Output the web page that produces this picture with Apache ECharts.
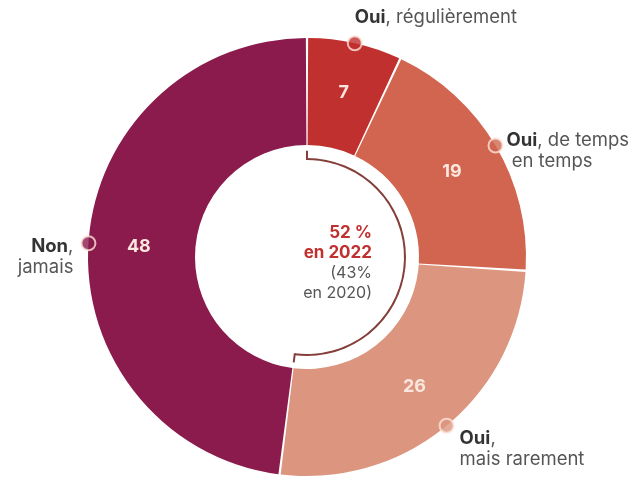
<!DOCTYPE html>
<html>
<head>
<meta charset="utf-8">
<script src="https://cdn.jsdelivr.net/npm/echarts@6/dist/echarts.min.js"></script>
<style>html,body{margin:0;padding:0;background:#fff}#c{width:635px;height:477px}</style>
</head>
<body>
<div id="c"></div>
<script>
var categories = ['Oui, régulièrement', 'Oui, de temps en temps', 'Oui, mais rarement', 'Non, jamais'];
var values = [7, 19, 26, 48];
var colors = ['#c0302f', '#d1654f', '#dc967f', '#8a1b4c'];
var labelBold = ['Oui', 'Oui', 'Oui', 'Non'];
var labelRest = [', régulièrement', ', de temps\n en temps', ',\nmais rarement', ',\njamais'];
var centerLines = ['52 %', 'en 2022', '(43%', 'en 2020)'];

var FONT = 'Inter, "Noto Sans", sans-serif';
var CX = 307, CY = 257, R_OUT = 219, R_IN = 112;
var total = values.reduce(function (a, b) { return a + b; }, 0);
var ouiSum = values[0] + values[1] + values[2];

var mids = [];
var acc = 0;
values.forEach(function (v) { mids.push(acc + v / 2); acc += v; });

var labelPos = [
  { position: 'top', align: 'left', verticalAlign: 'bottom', offset: [0, -2] },
  { position: 'right', align: 'left', verticalAlign: 'middle', offset: [-2, 5] },
  { position: 'right', align: 'left', verticalAlign: 'middle', offset: [0, 23] },
  { position: 'left', align: 'right', verticalAlign: 'middle', offset: [-2, 14] }
];

var markerData = values.map(function (v, i) {
  return {
    value: [1, mids[i]],
    itemStyle: { color: colors[i] },
    label: Object.assign({
      show: true,
      formatter: '{b|' + labelBold[i] + '}' + labelRest[i],
      color: '#2a2a2a',
      fontSize: 18.5,
      lineHeight: 21,
      fontFamily: FONT,
      rich: { b: { fontWeight: 'bold', color: '#000', fontSize: 18.5, fontFamily: FONT, lineHeight: 21 } }
    }, labelPos[i])
  };
});

var chart = echarts.init(document.getElementById('c'));
chart.setOption({
  animation: false,
  polar: { center: [CX, CY], radius: R_OUT },
  angleAxis: { type: 'value', min: 0, max: total, startAngle: 90, clockwise: true, show: false },
  radiusAxis: { type: 'value', min: 0, max: 1, show: false },
  series: [
    {
      type: 'pie',
      center: [CX, CY],
      radius: [R_IN, R_OUT],
      startAngle: 90,
      clockwise: true,
      padAngle: 0.6,
      silent: true,
      z: 1,
      data: values.map(function (v, i) {
        return { name: categories[i], value: v, itemStyle: { color: colors[i] } };
      }),
      label: {
        show: true,
        position: 'inside',
        formatter: '{c}',
        color: '#fbe6dd',
        fontSize: 18,
        fontWeight: 'bold',
        fontFamily: FONT
      },
      labelLine: { show: false }
    },
    {
      type: 'pie',
      center: [CX, CY],
      radius: [97, 99],
      startAngle: 90,
      clockwise: true,
      silent: true,
      z: 2,
      data: [
        { value: ouiSum, itemStyle: { color: '#843f3a' } },
        { value: total - ouiSum, itemStyle: { color: 'rgba(0,0,0,0)' } }
      ],
      label: { show: false },
      labelLine: { show: false }
    },
    {
      type: 'line',
      coordinateSystem: 'polar',
      silent: true,
      symbol: 'none',
      z: 3,
      lineStyle: { color: '#843f3a', width: 2 },
      data: [[0.443, 0], [0.485, 0]]
    },
    {
      type: 'line',
      coordinateSystem: 'polar',
      silent: true,
      symbol: 'none',
      z: 3,
      lineStyle: { color: '#843f3a', width: 2 },
      data: [[0.443, ouiSum], [0.485, ouiSum]]
    },
    {
      type: 'scatter',
      coordinateSystem: 'polar',
      silent: true,
      z: 5,
      symbol: 'circle',
      symbolSize: 14,
      itemStyle: { borderColor: '#fbe3d9', borderWidth: 2 },
      data: markerData
    }
  ],
  graphic: [
    {
      type: 'text',
      x: 372,
      y: 223,
      z: 10,
      style: {
        text: '{r|' + centerLines[0] + '}\n{r|' + centerLines[1] + '}\n{g|' + centerLines[2] + '}\n{g|' + centerLines[3] + '}',
        align: 'right',
        verticalAlign: 'top',
        rich: {
          r: { fill: '#c0302f', fontWeight: 'bold', fontSize: 17, fontFamily: FONT, lineHeight: 20, align: 'right' },
          g: { fill: '#555', fontSize: 16, fontFamily: FONT, lineHeight: 20, align: 'right' }
        }
      }
    }
  ]
});
</script>
</body>
</html>
